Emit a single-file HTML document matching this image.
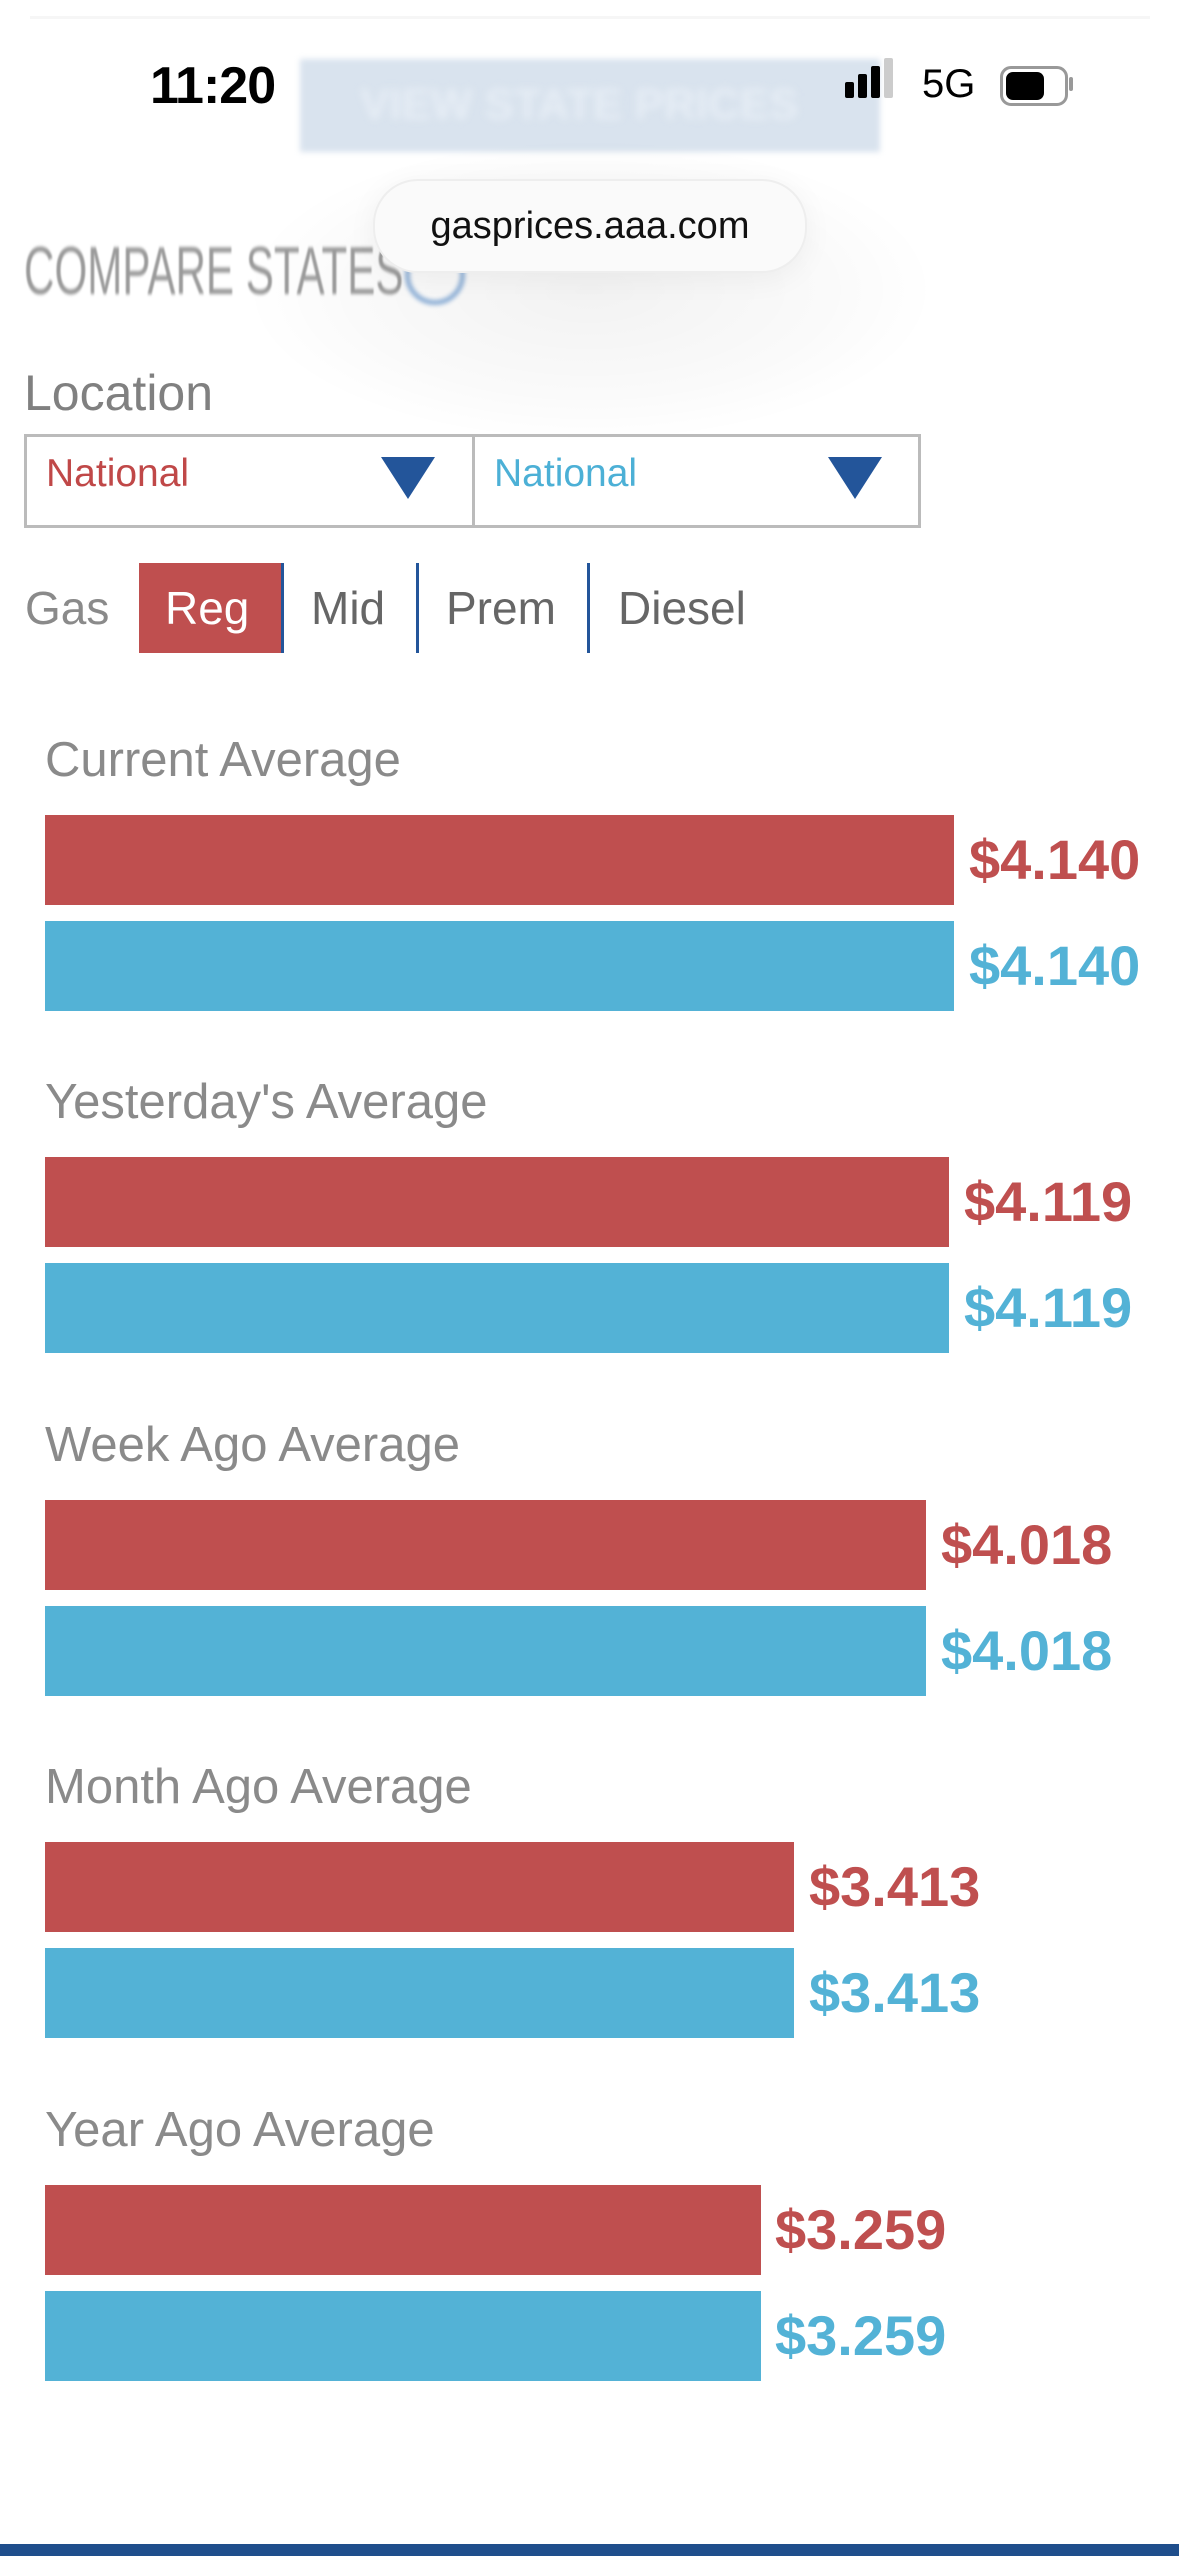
<!DOCTYPE html>
<html><head><meta charset="utf-8">
<style>
html,body{margin:0;padding:0;background:#fff;}
body{width:1179px;height:2556px;position:relative;overflow:hidden;font-family:"Liberation Sans",Arial,sans-serif;}
.a{position:absolute;white-space:nowrap;}
.lbl{position:absolute;left:45px;font-size:49px;color:#8a8a8a;line-height:1;}
.bar{position:absolute;left:45px;height:90px;}
.r{background:#bf4f4f;}
.b{background:#53b2d6;}
.v{position:absolute;font-size:56px;font-weight:bold;line-height:90px;height:90px;}
.vr{color:#bf4f4f;}
.vb{color:#53b2d6;}
.tab{position:absolute;top:563px;height:90px;line-height:90px;font-size:46px;color:#666;}
.div{position:absolute;top:563px;width:3px;height:90px;background:#23559a;}
</style></head><body>
<div class="a" style="left:30px;top:0;width:1120px;height:16px;border-bottom:3px solid #f6f6f6;"></div>
<div class="a" style="left:300px;top:59px;width:580px;height:93px;background:#d9e3ee;filter:blur(3px);"></div>
<div class="a" style="left:360px;top:80px;font-size:44px;font-weight:bold;color:#e6edf5;filter:blur(4px);">VIEW STATE PRICES</div>
<div class="a" style="left:150px;top:56px;font-size:52px;font-weight:bold;color:#000;letter-spacing:-1px;">11:20</div>
<div class="a" style="left:845px;top:82px;width:9px;height:16px;background:#000;border-radius:2px;"></div>
<div class="a" style="left:858px;top:74px;width:9px;height:24px;background:#000;border-radius:2px;"></div>
<div class="a" style="left:871px;top:66px;width:9px;height:32px;background:#000;border-radius:2px;"></div>
<div class="a" style="left:884px;top:58px;width:9px;height:40px;background:#ccc;border-radius:2px;"></div>
<div class="a" style="left:922px;top:62px;font-size:40px;color:#000;">5G</div>
<div class="a" style="left:1000px;top:66px;width:62px;height:34px;border:3px solid #999;border-radius:11px;"></div>
<div class="a" style="left:1006px;top:72px;width:38px;height:28px;background:#000;border-radius:7px;"></div>
<div class="a" style="left:1069px;top:77px;width:4px;height:14px;background:#999;border-radius:2px;"></div>
<div class="a" style="left:250px;top:140px;width:680px;height:300px;border-radius:50%;background:radial-gradient(ellipse at center, rgba(0,0,0,0.05) 0%, rgba(0,0,0,0.02) 50%, rgba(0,0,0,0) 72%);"></div>
<div class="a" style="left:24px;top:232px;font-size:68px;color:#9a9a9a;transform:scaleX(0.62);transform-origin:left;filter:blur(1.5px);">COMPARE STATES</div>
<div class="a" style="left:405px;top:245px;width:50px;height:50px;border:5px solid #8fb0d6;border-radius:50%;filter:blur(2px);"></div>
<div class="a" style="left:373px;top:179px;width:430px;height:90px;border-radius:45px;background:#fafafa;border:2px solid #eee;box-shadow:0 6px 30px rgba(0,0,0,0.05);"></div>
<div class="a" style="left:373px;top:179px;width:434px;height:94px;line-height:94px;text-align:center;font-size:38px;color:#111;">gasprices.aaa.com</div>
<div class="a" style="left:24px;top:364px;font-size:50px;color:#808080;">Location</div>
<div class="a" style="left:24px;top:434px;width:891px;height:88px;border:3px solid #bbb;"></div>
<div class="a" style="left:472px;top:434px;width:3px;height:94px;background:#bbb;"></div>
<div class="a" style="left:46px;top:452px;font-size:39px;color:#c04848;">National</div>
<div class="a" style="left:494px;top:452px;font-size:39px;color:#4cb0d6;">National</div>
<div class="a" style="left:381px;top:457px;width:0;height:0;border-left:27px solid transparent;border-right:27px solid transparent;border-top:42px solid #23559a;"></div>
<div class="a" style="left:828px;top:457px;width:0;height:0;border-left:27px solid transparent;border-right:27px solid transparent;border-top:42px solid #23559a;"></div>
<div class="tab" style="left:25px;color:#8a8a8a;">Gas</div>
<div class="a" style="left:139px;top:563px;width:144px;height:90px;background:#bf4f4f;"></div>
<div class="tab" style="left:165px;color:#fff;">Reg</div>
<div class="div" style="left:281px;"></div>
<div class="tab" style="left:311px;">Mid</div>
<div class="div" style="left:416px;"></div>
<div class="tab" style="left:446px;">Prem</div>
<div class="div" style="left:587px;"></div>
<div class="tab" style="left:618px;">Diesel</div>

<div class="lbl" style="top:736px;">Current Average</div>
<div class="bar r" style="top:815px;width:909px;"></div>
<div class="bar b" style="top:921px;width:909px;"></div>
<div class="v vr" style="left:969px;top:815px;">$4.140</div>
<div class="v vb" style="left:969px;top:921px;">$4.140</div>

<div class="lbl" style="top:1078px;">Yesterday's Average</div>
<div class="bar r" style="top:1157px;width:904px;"></div>
<div class="bar b" style="top:1263px;width:904px;"></div>
<div class="v vr" style="left:964px;top:1157px;">$4.119</div>
<div class="v vb" style="left:964px;top:1263px;">$4.119</div>

<div class="lbl" style="top:1421px;">Week Ago Average</div>
<div class="bar r" style="top:1500px;width:881px;"></div>
<div class="bar b" style="top:1606px;width:881px;"></div>
<div class="v vr" style="left:941px;top:1500px;">$4.018</div>
<div class="v vb" style="left:941px;top:1606px;">$4.018</div>

<div class="lbl" style="top:1763px;">Month Ago Average</div>
<div class="bar r" style="top:1842px;width:749px;"></div>
<div class="bar b" style="top:1948px;width:749px;"></div>
<div class="v vr" style="left:809px;top:1842px;">$3.413</div>
<div class="v vb" style="left:809px;top:1948px;">$3.413</div>

<div class="lbl" style="top:2106px;">Year Ago Average</div>
<div class="bar r" style="top:2185px;width:716px;"></div>
<div class="bar b" style="top:2291px;width:716px;"></div>
<div class="v vr" style="left:775px;top:2185px;">$3.259</div>
<div class="v vb" style="left:775px;top:2291px;">$3.259</div>

<div class="a" style="left:0;top:2544px;width:1179px;height:12px;background:#1f4e8c;"></div>
</body></html>
